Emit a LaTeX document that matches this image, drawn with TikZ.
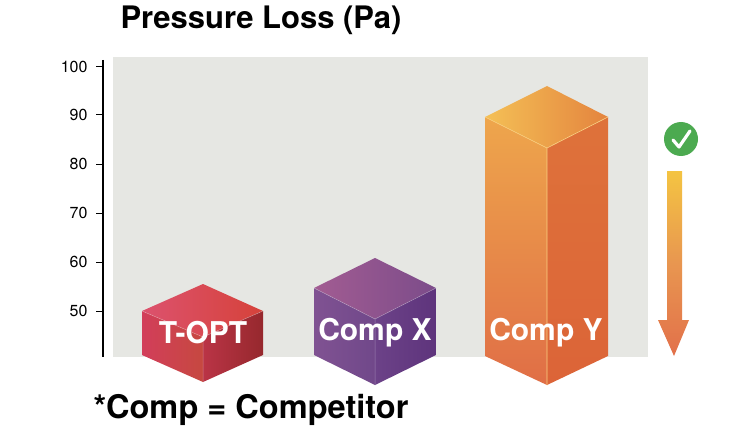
\documentclass[tikz,border=0pt]{standalone}
\usepackage{fontspec}
\setmainfont{TeX Gyre Heros}
\begin{document}
\begin{tikzpicture}[x=1pt,y=-1pt,
  tick/.style={font=\fontsize{16}{16}\selectfont, anchor=east},
  lbl/.style={font=\bfseries\fontsize{30}{30}\selectfont, text=white},
  edge/.style={draw=white, draw opacity=0.35, line width=0.5pt}]
\useasboundingbox (0,0) rectangle (748,436);
\fill[white] (0,0) rectangle (748,436);
\fill[color={rgb,255:red,230;green,231;blue,227}] (113,57) rectangle (648,357);
% axis
\draw[line width=1.5pt] (103,60) -- (103,357);
\foreach \v/\y in {100/67,90/115,80/164,70/213,60/262,50/311}{
  \draw[line width=1pt] (96,\y) -- (103,\y);
  \node[tick] (t\v) at (91,\y) {\v};
}
\node[font=\bfseries\fontsize{31}{32}\selectfont, anchor=west] (title) at (117,20) {Pressure Loss (Pa)};
\node[font=\bfseries\fontsize{32.5}{33}\selectfont, anchor=west] (foot) at (90,410) {*Comp = Competitor};
% T-OPT box
\shade[left color={rgb,255:red,220;green,82;blue,110}, right color={rgb,255:red,214;green,66;blue,58}] (142,311) -- (203,284) -- (263,311) -- (203,337) -- cycle;
\shade[shading angle=45, left color={rgb,255:red,210;green,62;blue,90}, right color={rgb,255:red,198;green,72;blue,64}] (142,311) -- (203,337) -- (203,382) -- (142,355) -- cycle;
\shade[shading angle=45, left color={rgb,255:red,186;green,52;blue,70}, right color={rgb,255:red,150;green,40;blue,45}] (203,337) -- (263,311) -- (263,355) -- (203,382) -- cycle;
\draw[edge] (142,311) -- (203,337) -- (263,311) (203,337) -- (203,382);
% Comp X
\shade[left color={rgb,255:red,162;green,92;blue,146}, right color={rgb,255:red,124;green,76;blue,138}] (314,288) -- (375,258) -- (436,288) -- (375,319) -- cycle;
\shade[shading angle=45, left color={rgb,255:red,128;green,82;blue,146}, right color={rgb,255:red,112;green,72;blue,138}] (314,288) -- (375,319) -- (375,385) -- (314,355) -- cycle;
\shade[shading angle=45, left color={rgb,255:red,108;green,66;blue,136}, right color={rgb,255:red,94;green,52;blue,124}] (375,319) -- (436,288) -- (436,355) -- (375,385) -- cycle;
\draw[edge] (314,288) -- (375,319) -- (436,288) (375,319) -- (375,385);
% Comp Y
\shade[left color={rgb,255:red,244;green,192;blue,86}, right color={rgb,255:red,228;green,132;blue,62}] (485,117) -- (547,86) -- (608,117) -- (547,148) -- cycle;
\shade[top color={rgb,255:red,238;green,166;blue,76}, bottom color={rgb,255:red,224;green,110;blue,70}] (485,117) -- (547,148) -- (547,385) -- (485,356) -- cycle;
\shade[top color={rgb,255:red,222;green,114;blue,58}, bottom color={rgb,255:red,220;green,100;blue,56}] (547,148) -- (608,117) -- (608,356) -- (547,385) -- cycle;
\draw[draw={rgb,255:red,250;green,210;blue,130}, line width=0.6pt] (485,117) -- (547,148) -- (608,117) (547,148) -- (547,385);
% labels
\node[lbl] (topt) at (203,333) {T-OPT};
\node[lbl] (compx) at (375,333) {Comp X};
\node[lbl] (compy) at (546,333) {Comp Y};
% check
\node[circle, fill={rgb,255:red,76;green,170;blue,80}, minimum size=34pt, inner sep=0pt] (chk) at (681,139) {};
\draw[white, line width=3.2pt, line cap=round, line join=round] (673,140) -- (679,147) -- (690,131);
% arrow
\shade[top color={rgb,255:red,244;green,196;blue,66}, bottom color={rgb,255:red,226;green,112;blue,74}, middle color={rgb,255:red,232;green,150;blue,80}]
  (667,171) -- (682,171) -- (682,320) -- (689,320) -- (674,356) -- (658,320) -- (667,320) -- cycle;
\end{tikzpicture}
\end{document}
